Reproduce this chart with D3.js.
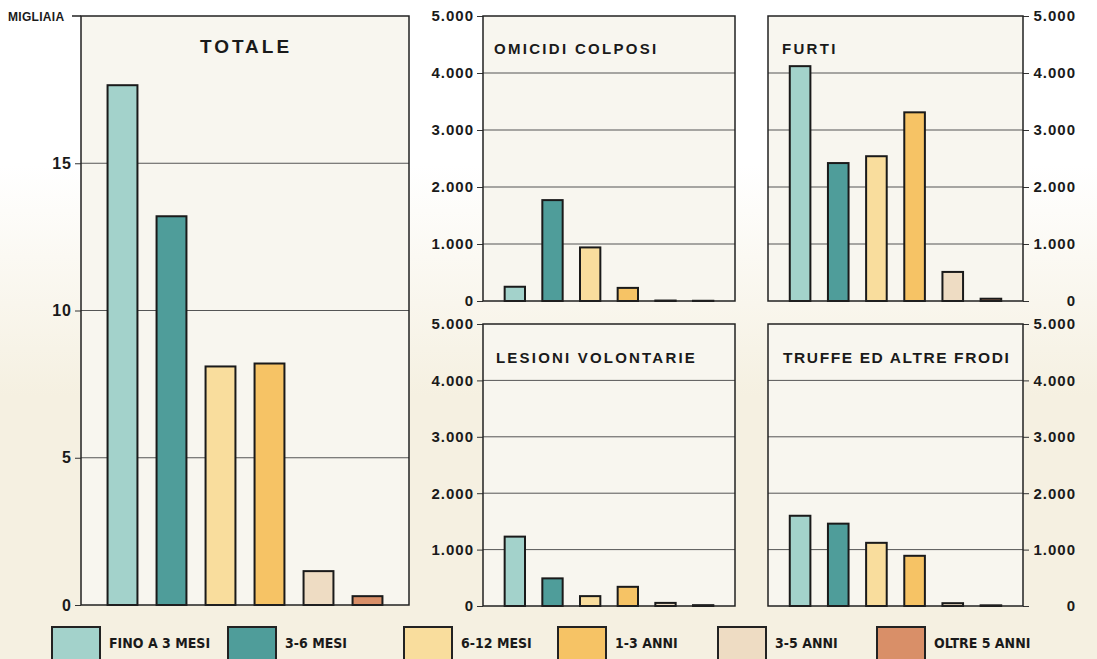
<!DOCTYPE html>
<html>
<head>
<meta charset="utf-8">
<script src="https://cdn.jsdelivr.net/npm/d3@7"></script>
<style>
  body { margin: 0; background: #f5f0e1; }
  svg { display: block; }
  text { font-family: "Liberation Sans", Arial, sans-serif; font-weight: bold; fill: #1a1a1a; }
</style>
</head>
<body>
<svg width="1097" height="659"></svg>
<script>
// data
var categories = ["FINO A 3 MESI", "3-6 MESI", "6-12 MESI", "1-3 ANNI", "3-5 ANNI", "OLTRE 5 ANNI"];
var colors = ["#a3d2cb", "#4f9d9a", "#f9dd9d", "#f6c365", "#eedcc3", "#d98f68"];

var totale = [17.65, 13.2, 8.1, 8.2, 1.15, 0.3];
var omicidi = [250, 1770, 940, 230, 8, 4];
var furti = [4120, 2420, 2540, 3310, 510, 40];
var lesioni = [1230, 490, 175, 340, 55, 15];
var truffe = [1600, 1460, 1120, 890, 50, 12];

var totaleTicks = [0, 5, 10, 15];
var totaleLabels = ["0", "5", "10", "15"];
var smallTicks = [0, 1000, 2000, 3000, 4000, 5000];
var smallLabels = ["0", "1.000", "2.000", "3.000", "4.000", "5.000"];

var svg = d3.select("svg");

// background: white at top fading into cream
var defs = svg.append("defs");
var grad = defs.append("linearGradient").attr("id", "bg")
  .attr("x1", 0).attr("y1", 0).attr("x2", 0).attr("y2", 1);
grad.append("stop").attr("offset", "0.25").attr("stop-color", "#ffffff");
grad.append("stop").attr("offset", "0.6").attr("stop-color", "#f5f0e1");
svg.append("rect").attr("width", 1097).attr("height", 659).attr("fill", "url(#bg)");

function panel(opt) {
  var g = svg.append("g");
  var y = d3.scaleLinear().domain([0, opt.max]).range([opt.bottom, opt.top]);
  var x = d3.scaleBand().domain(categories)
    .range([opt.left + opt.inset, opt.right - opt.inset])
    .paddingInner(opt.pin).paddingOuter(opt.pin / 2);

  g.append("rect")
    .attr("x", opt.left).attr("y", opt.top)
    .attr("width", opt.right - opt.left).attr("height", opt.bottom - opt.top)
    .attr("fill", "#f8f6ef");

  // gridlines
  g.selectAll(".grid").data(opt.ticks.filter(function (t) { return t > 0 && t < opt.max; }))
    .enter().append("line")
    .attr("x1", opt.left).attr("x2", opt.right)
    .attr("y1", function (d) { return y(d); }).attr("y2", function (d) { return y(d); })
    .attr("stroke", "#555").attr("stroke-width", 1);

  // axis
  var axis = (opt.side === "left" ? d3.axisLeft(y) : d3.axisRight(y))
    .tickValues(opt.ticks)
    .tickFormat(function (d, i) { return opt.labels[i]; })
    .tickSize(6).tickPadding(opt.side === "left" ? 3 : 5);
  var ax = g.append("g")
    .attr("transform", "translate(" + (opt.side === "left" ? opt.left : opt.right) + ",0)")
    .call(axis);
  ax.select(".domain").remove();
  ax.selectAll("line").attr("stroke", "#333");
  ax.selectAll("text").attr("font-size", opt.fs).attr("fill", "#1a1a1a")
    .style("letter-spacing", "1px");
  if (opt.side === "right") {
    ax.selectAll("text").attr("text-anchor", "end").attr("x", 53);
  }

  // bars
  g.selectAll(".bar").data(opt.values).enter().append("rect")
    .attr("x", function (d, i) { return x(categories[i]); })
    .attr("width", x.bandwidth())
    .attr("y", function (d) { return y(d); })
    .attr("height", function (d) { return opt.bottom - y(d); })
    .attr("fill", function (d, i) { return colors[i]; })
    .attr("stroke", "#1a1a1a").attr("stroke-width", 2);

  // frame
  g.append("rect")
    .attr("x", opt.left).attr("y", opt.top)
    .attr("width", opt.right - opt.left).attr("height", opt.bottom - opt.top)
    .attr("fill", "none").attr("stroke", "#222").attr("stroke-width", 1.5);

  g.append("text")
    .attr("x", opt.tx).attr("y", opt.ty)
    .attr("text-anchor", opt.anchor || "start")
    .attr("font-size", opt.tfs)
    .style("letter-spacing", opt.tls)
    .text(opt.title);
}

panel({ title: "TOTALE", values: totale, max: 20, ticks: totaleTicks, labels: totaleLabels,
  left: 81, right: 409, top: 16, bottom: 605, inset: 17, pin: 0.39, side: "left", fs: 16,
  tx: 246, ty: 53, anchor: "middle", tfs: 19, tls: "3px" });

panel({ title: "OMICIDI COLPOSI", values: omicidi, max: 5000, ticks: smallTicks, labels: smallLabels,
  left: 483, right: 735, top: 16, bottom: 301, inset: 13, pin: 0.46, side: "left", fs: 15,
  tx: 494, ty: 54, tfs: 15, tls: "2.3px" });

panel({ title: "FURTI", values: furti, max: 5000, ticks: smallTicks, labels: smallLabels,
  left: 768, right: 1023, top: 16, bottom: 301, inset: 13, pin: 0.46, side: "right", fs: 15,
  tx: 782, ty: 54, tfs: 15, tls: "2.3px" });

panel({ title: "LESIONI VOLONTARIE", values: lesioni, max: 5000, ticks: smallTicks, labels: smallLabels,
  left: 483, right: 735, top: 324, bottom: 606, inset: 13, pin: 0.46, side: "left", fs: 15,
  tx: 496, ty: 363, tfs: 15, tls: "2.2px" });

panel({ title: "TRUFFE ED ALTRE FRODI", values: truffe, max: 5000, ticks: smallTicks, labels: smallLabels,
  left: 768, right: 1023, top: 324, bottom: 606, inset: 13, pin: 0.46, side: "right", fs: 15,
  tx: 783, ty: 363, tfs: 15.5, tls: "1.6px" });

svg.append("text").attr("x", 8).attr("y", 21).attr("font-size", 12)
  .style("letter-spacing", "0.3px").text("MIGLIAIA");
svg.append("line").attr("x1", 72).attr("x2", 81).attr("y1", 16).attr("y2", 16)
  .attr("stroke", "#222").attr("stroke-width", 1.5);

// legend
var legendX = [52, 228, 404, 558, 718, 877];
var leg = svg.append("g").selectAll("g").data(categories).enter().append("g")
  .attr("transform", function (d, i) { return "translate(" + legendX[i] + ",627)"; });
leg.append("rect").attr("width", 48).attr("height", 36)
  .attr("fill", function (d, i) { return colors[i]; })
  .attr("stroke", "#222").attr("stroke-width", 2);
leg.append("text").attr("x", 57).attr("y", 21)
  .attr("font-size", 14)
  .style("font-family", "'Liberation Sans Narrow', 'DejaVu Sans Condensed', sans-serif")
  .style("letter-spacing", "0px")
  .text(function (d) { return d; });
</script>
</body>
</html>
